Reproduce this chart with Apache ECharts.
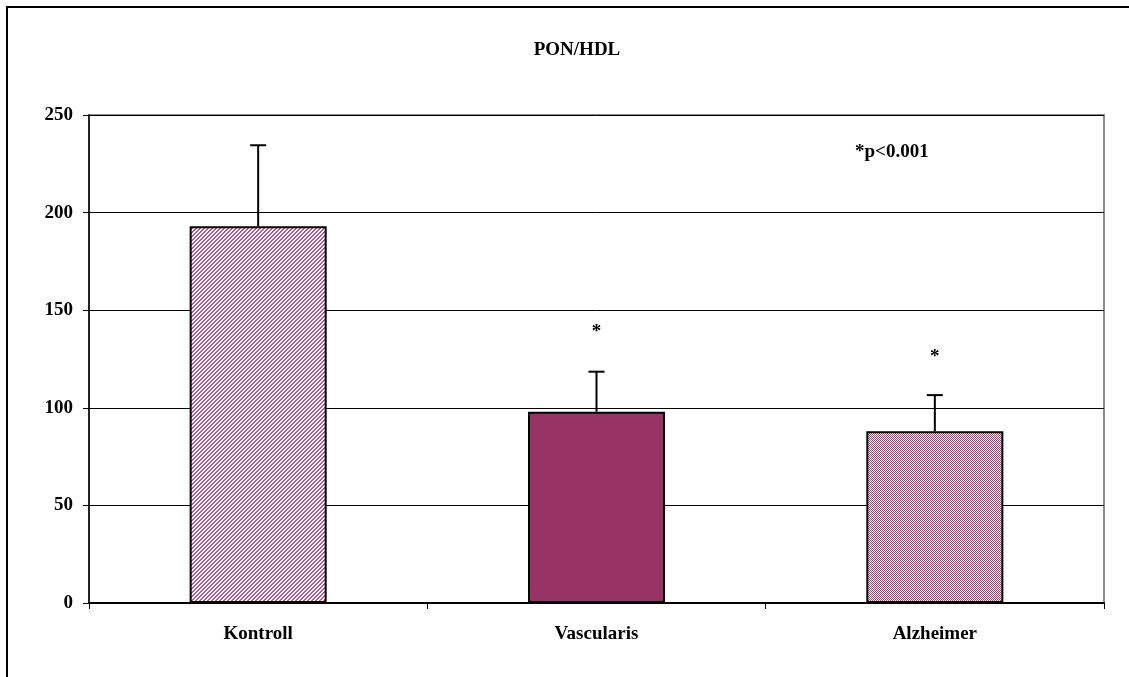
<!DOCTYPE html>
<html>
<head>
<meta charset="utf-8">
<script src="https://cdn.jsdelivr.net/npm/echarts@6/dist/echarts.min.js"></script>
<style>
  html, body { margin: 0; padding: 0; background: #ffffff; }
  #chart { width: 1129px; height: 677px; }
</style>
</head>
<body>
<div id="chart"></div>
<script>
// PON/HDL by group, with upward SD whiskers
const categories = ['Kontroll', 'Vascularis', 'Alzheimer'];
const means = [193, 98, 88];
const errors = [41.5, 20.5, 18.5];
const starLevels = [null, 139, 126];
const yTicks = [0, 50, 100, 150, 200, 250];

const FONT = '"Liberation Serif", "DejaVu Serif", serif';
const PLUM = '#993366';

// Hatch fills drawn on small tiles and repeated across the bars
function makeTile(size, painter) {
  const c = document.createElement('canvas');
  c.width = size; c.height = size;
  const g = c.getContext('2d');
  g.fillStyle = '#ffffff';
  g.fillRect(0, 0, size, size);
  painter(g);
  return c;
}
const diagTile = makeTile(4, g => {
  g.fillStyle = '#c0578a';
  for (let i = 0; i < 4; i++) {
    g.fillRect(i, 3 - i, 1, 1);
    g.fillRect((i + 1) % 4, 3 - i, 1, 1);
  }
});
const checkTile = makeTile(2, g => {
  g.fillStyle = '#a8406f';
  g.fillRect(0, 0, 1, 1);
  g.fillRect(1, 1, 1, 1);
});
const fills = [
  { image: diagTile, repeat: 'repeat' },
  PLUM,
  { image: checkTile, repeat: 'repeat' }
];

const chart = echarts.init(document.getElementById('chart'), null, { renderer: 'canvas' });

chart.setOption({
  backgroundColor: '#ffffff',
  animation: false,
  title: {
    text: 'PON/HDL',
    left: 572, top: 36, textAlign: 'center',
    textStyle: { fontFamily: FONT, fontWeight: 'bold', fontSize: 19, color: '#000' }
  },
  graphic: [
    {
      type: 'rect', silent: true,
      shape: { x: 7, y: 7, width: 1140, height: 700 },
      style: { fill: 'none', stroke: '#000', lineWidth: 2 }
    },
    {
      type: 'text', left: 855, top: 143,
      style: { text: '*p<0.001', font: 'bold 19px ' + FONT, fill: '#000' }
    }
  ],
  grid: {
    left: 89, right: 25, top: 115, bottom: 74,
    show: true, borderColor: '#8c8c8c', borderWidth: 2, backgroundColor: 'transparent'
  },
  xAxis: {
    type: 'category',
    data: categories,
    axisLine: { lineStyle: { color: '#000', width: 2 } },
    axisTick: { show: true, length: 6, lineStyle: { color: '#000' } },
    axisLabel: { margin: 22, fontFamily: FONT, fontWeight: 'bold', fontSize: 19, color: '#000' }
  },
  yAxis: {
    type: 'value',
    min: yTicks[0], max: yTicks[yTicks.length - 1], interval: 50,
    axisLine: { show: true, lineStyle: { color: '#000', width: 1.5 } },
    axisTick: { show: true, length: 6, lineStyle: { color: '#000' } },
    axisLabel: { margin: 16, fontFamily: FONT, fontWeight: 'bold', fontSize: 19, color: '#000' },
    splitLine: { lineStyle: { color: '#000', width: 1 } }
  },
  series: [
    {
      type: 'bar',
      barWidth: '40.5%',
      data: means.map((v, i) => ({
        value: v,
        itemStyle: { color: fills[i], borderColor: '#000', borderWidth: 2 }
      })),
      z: 2
    },
    {
      // whiskers: stem from bar top up to mean + error, with a cap
      type: 'custom',
      z: 3,
      data: means.map((v, i) => [i, v, v + errors[i]]),
      renderItem: (params, api) => {
        const base = api.coord([api.value(0), api.value(1)]);
        const top = api.coord([api.value(0), api.value(2)]);
        const half = 8;
        return {
          type: 'group',
          children: [
            { type: 'line', shape: { x1: base[0], y1: base[1], x2: top[0], y2: top[1] },
              style: { stroke: '#000', lineWidth: 2 } },
            { type: 'line', shape: { x1: top[0] - half, y1: top[1], x2: top[0] + half, y2: top[1] },
              style: { stroke: '#000', lineWidth: 2 } }
          ]
        };
      }
    },
    {
      // significance markers above the patient groups
      type: 'custom',
      z: 4,
      data: starLevels.map((v, i) => [i, v]).filter(d => d[1] != null),
      renderItem: (params, api) => {
        const p = api.coord([api.value(0), api.value(1)]);
        return {
          type: 'text',
          x: p[0], y: p[1],
          style: {
            text: '*', font: 'bold 19px ' + FONT, fill: '#000',
            align: 'center', verticalAlign: 'middle'
          }
        };
      }
    }
  ]
});
</script>
</body>
</html>
